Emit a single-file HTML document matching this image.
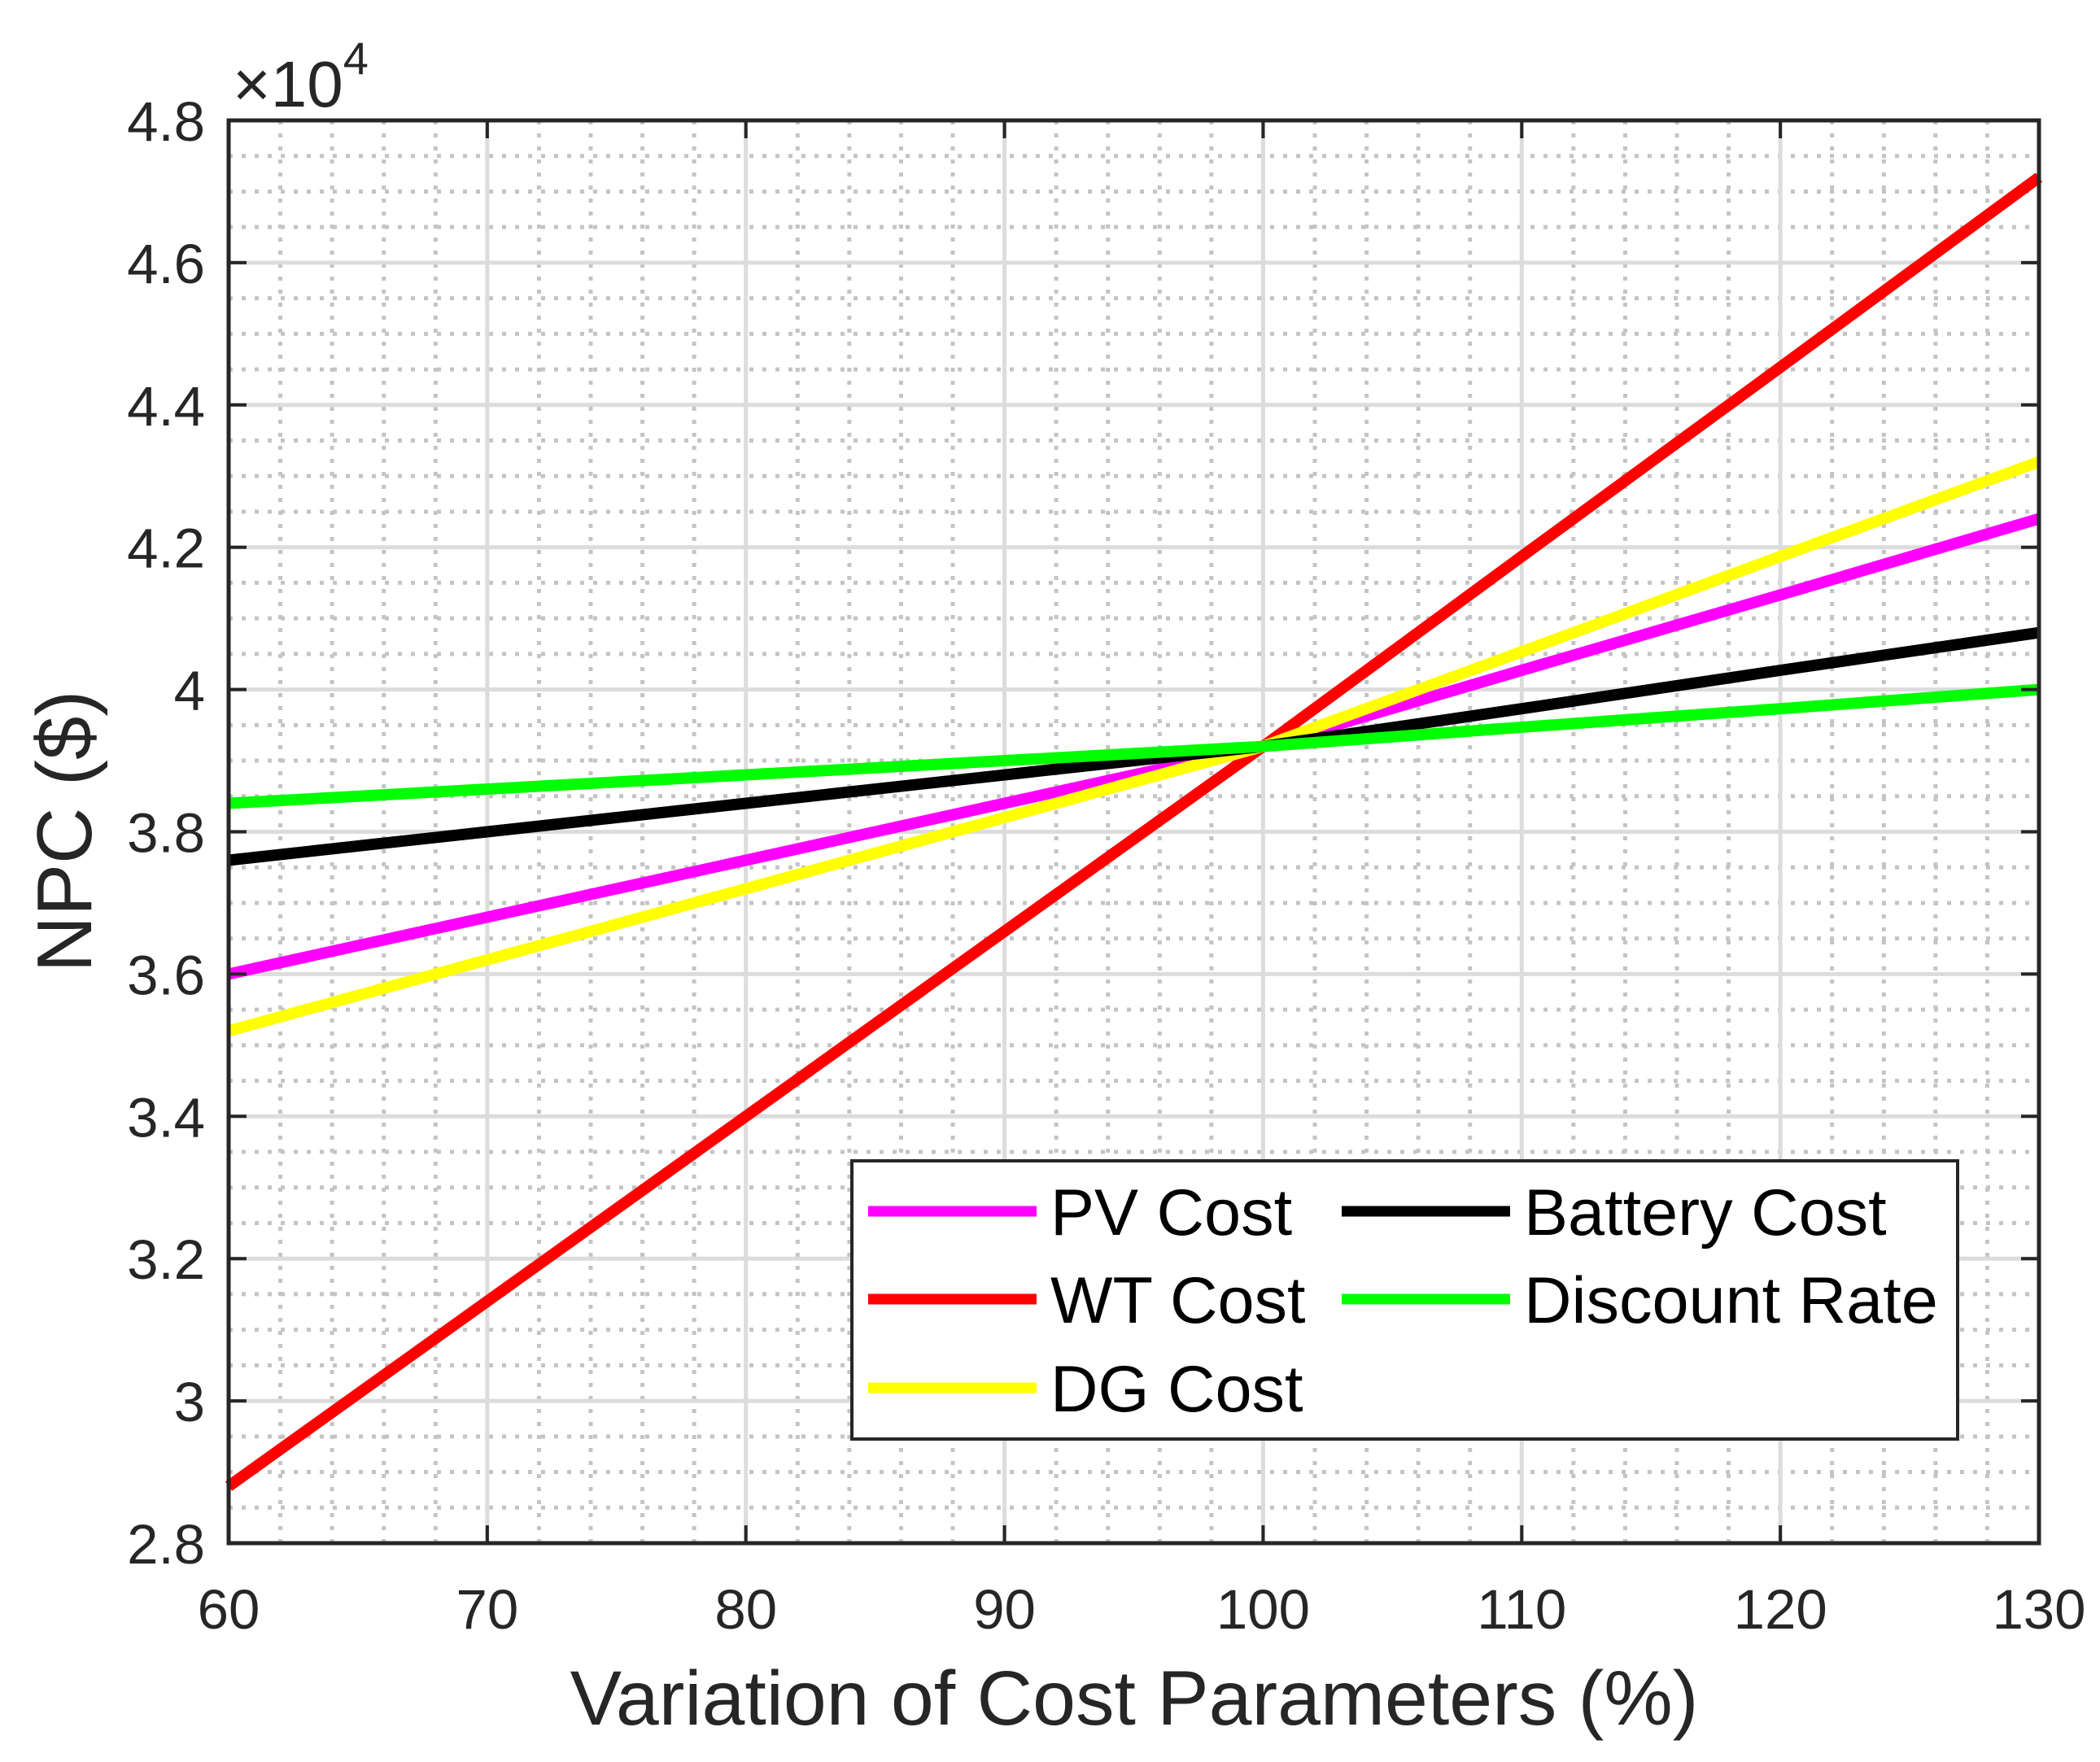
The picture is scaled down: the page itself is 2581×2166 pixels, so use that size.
<!DOCTYPE html>
<html><head><meta charset="utf-8"><style>
html,body{margin:0;padding:0;background:#fff;}
svg{display:block;font-family:"Liberation Sans",Arial,sans-serif;}
</style></head><body>
<svg id="chart" width="2581" height="2166" viewBox="0 0 2581 2166" xmlns="http://www.w3.org/2000/svg">
<rect width="2581" height="2166" fill="#fff"/>
<g id="grid"></g>
<g id="series"></g>
<rect x="281" y="148" width="2225" height="1749" fill="none" stroke="#262626" stroke-width="5"/>
<g id="ticks"></g>
<text x="286" y="131" font-size="80" fill="#262626">×10<tspan font-size="56" dy="-40">4</tspan></text>
<text x="1394" y="2120" font-size="95" fill="#262626" text-anchor="middle">Variation of Cost Parameters (%)</text>
<text transform="translate(112,1022) rotate(-90)" font-size="96" fill="#262626" text-anchor="middle">NPC ($)</text>
<g id="legend">
<rect x="1047" y="1427" width="1359" height="342" fill="#fff" stroke="#262626" stroke-width="4"/>
</g>
</svg>
<script>
const xValues = [60,70,80,90,100,110,120,130];
const pvCost = [3.60,3.68,3.76,3.84,3.92,4.027,4.133,4.24];
const wtCost = [2.88,3.14,3.40,3.66,3.92,4.187,4.453,4.72];
const dgCost = [3.52,3.62,3.72,3.82,3.92,4.053,4.187,4.32];
const batteryCost = [3.76,3.80,3.84,3.88,3.92,3.973,4.027,4.08];
const discountRate = [3.84,3.86,3.88,3.90,3.92,3.947,3.973,4.00];
const xTicks = [60,70,80,90,100,110,120,130];
const yTicks = [2.8,3,3.2,3.4,3.6,3.8,4,4.2,4.4,4.6,4.8];
const yTickLabels = ["2.8","3","3.2","3.4","3.6","3.8","4","4.2","4.4","4.6","4.8"];
const seriesNames = ["PV Cost","WT Cost","DG Cost","Battery Cost","Discount Rate"];
const seriesColors = ["#ff00ff","#ff0000","#ffff00","#000000","#00ff00"];

const L=281,R=2506,T=148,B=1897;
const sx=v=>L+(v-60)/70*(R-L);
const sy=v=>B-(v-2.8)/2.0*(B-T);
const NS="http://www.w3.org/2000/svg";
function mk(tag,attrs,parent){const e=document.createElementNS(NS,tag);for(const k in attrs)e.setAttribute(k,attrs[k]);parent.appendChild(e);return e;}
const grid=document.getElementById('grid');
for(let v=60;v<=130;v+=2){
  if(v%10===0)continue;
  const l=mk('line',{x1:sx(v),x2:sx(v),y1:T,y2:B,stroke:'#c4c4c4','stroke-width':5,'stroke-dasharray':'5 11'},grid);
  
  
}
for(let i=0;i<=40;i++){
  if(i%4===0)continue;
  const v=2.8+i*0.05;
  const l=mk('line',{x1:L,x2:R,y1:sy(v),y2:sy(v),stroke:'#c4c4c4','stroke-width':5,'stroke-dasharray':'5 11'},grid);
  
  
}
xTicks.forEach(v=>{
  const l=mk('line',{x1:sx(v),x2:sx(v),y1:T,y2:B,stroke:'#dcdcdc','stroke-width':5},grid);
  
  
});
yTicks.forEach(v=>{
  const l=mk('line',{x1:L,x2:R,y1:sy(v),y2:sy(v),stroke:'#dcdcdc','stroke-width':5},grid);
  
  
});
const ser=document.getElementById('series');
[pvCost,wtCost,dgCost,batteryCost,discountRate].forEach((arr,i)=>{
  const pts=arr.map((y,j)=>sx(xValues[j])+','+sy(y)).join(' ');
  const p=mk('polyline',{points:pts,fill:'none',stroke:seriesColors[i],'stroke-width':14},ser);
  
  
});
const tk=document.getElementById('ticks');
xTicks.forEach(v=>{
  mk('line',{x1:sx(v),x2:sx(v),y1:B,y2:B-22,stroke:'#262626','stroke-width':4},tk);
  mk('line',{x1:sx(v),x2:sx(v),y1:T,y2:T+22,stroke:'#262626','stroke-width':4},tk);
  const t=mk('text',{x:sx(v),y:2002,'font-size':69,fill:'#262626','text-anchor':'middle'},tk);
  t.textContent=v;
  
  
});
yTicks.forEach((v,i)=>{
  mk('line',{x1:L,x2:L+22,y1:sy(v),y2:sy(v),stroke:'#262626','stroke-width':4},tk);
  mk('line',{x1:R,x2:R-22,y1:sy(v),y2:sy(v),stroke:'#262626','stroke-width':4},tk);
  const t=mk('text',{x:252,y:sy(v)+25,'font-size':69,fill:'#262626','text-anchor':'end'},tk);
  t.textContent=yTickLabels[i];
  
  
});
const lg=document.getElementById('legend');
const pos=[[1067,1489],[1067,1597],[1067,1706],[1649,1489],[1649,1597]];
seriesNames.forEach((n,i)=>{
  const [x,y]=pos[i];
  const g=mk('g',{},lg);
  
  
  mk('line',{x1:x,x2:x+207,y1:y,y2:y,stroke:seriesColors[i],'stroke-width':13},g);
  const t=mk('text',{x:x+224,y:y+29,'font-size':81,fill:'#000'},g);
  t.textContent=n;
});
</script>
</body></html>
